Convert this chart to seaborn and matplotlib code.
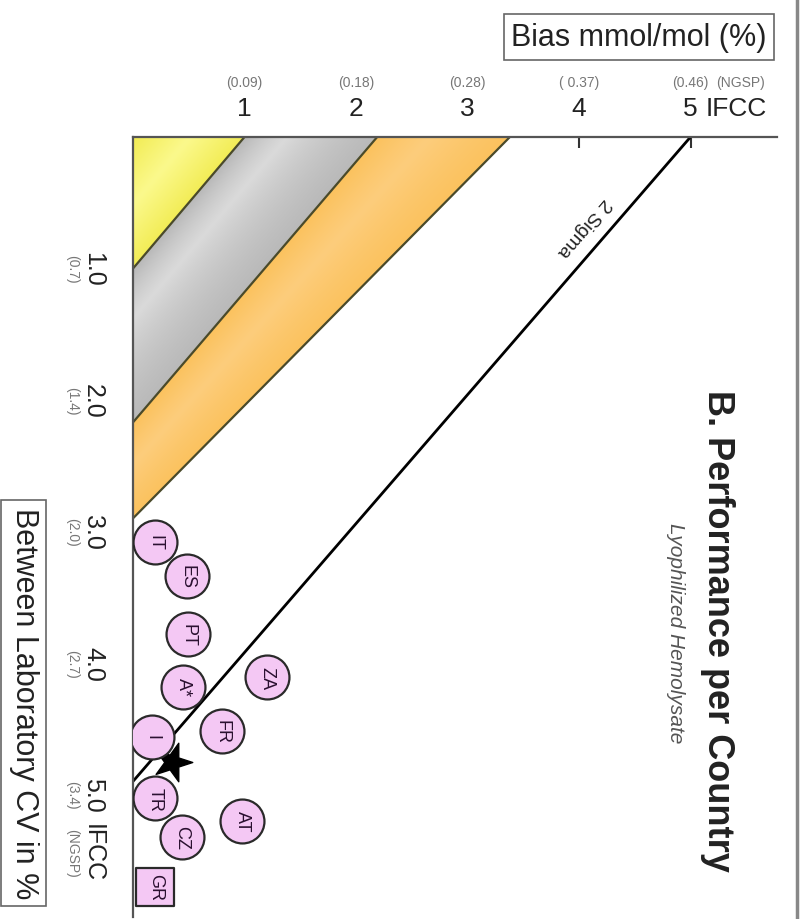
import math
import numpy as np
import matplotlib
matplotlib.use("Agg")
import pandas as pd
import matplotlib.pyplot as plt
import matplotlib.transforms as mtransforms
from matplotlib.lines import Line2D
from matplotlib.markers import MarkerStyle
from matplotlib.patches import Polygon
from matplotlib.colors import LinearSegmentedColormap
import seaborn as sns

# country results: bias (IFCC mmol/mol) against between-lab CV (%)
countries = ["IT", "ES", "PT", "A*", "I", "ZA", "FR", "TR", "CZ", "AT", "GR"]
bias = [0.20, 0.48, 0.49, 0.45, 0.17, 1.20, 0.80, 0.20, 0.44, 0.98, 0.20]
cv = [3.08, 3.34, 3.78, 4.18, 4.56, 4.11, 4.52, 5.03, 5.32, 5.20, 5.70]
kind = ["circle", "circle", "circle", "circle", "circle", "circle",
        "circle", "circle", "circle", "circle", "square"]

star_bias = [0.35]
star_cv = [4.75]

# performance zones: where each zone edge meets the bias and CV axes
zone_bias = [1.0, 2.19, 3.38]
zone_cv = [1.0, 2.17, 2.90]

# 2 sigma limit line
sigma_bias = 5.0
sigma_cv = 4.9

bias_ticks = [1, 2, 3, 4, 5]
bias_ngsp = ["(0.09)", "(0.18)", "(0.28)", "( 0.37)", "(0.46)"]
cv_ticks = [1.0, 2.0, 3.0, 4.0, 5.0]
cv_ngsp = ["(0.7)", "(1.4)", "(2.0)", "(2.7)", "(3.4)"]

df = pd.DataFrame({"country": countries, "bias": bias, "cv": cv, "kind": kind})

sns.set_style("white")
plt.rcParams["font.family"] = ["Liberation Sans", "DejaVu Sans"]

W, H = 800, 920
fig = plt.figure(figsize=(8, 9.2), dpi=100)
ax = fig.add_axes([133 / W, 2 / H, 644 / W, 780 / H])
xmax, ymax = 644 / 111.5, 780 / 131.5
ax.set_xlim(0, xmax)
ax.set_ylim(ymax, 0)

# zones, each shaded lighter in its middle
zone_cmaps = [
    LinearSegmentedColormap.from_list("y", ["#f2ec55", "#fbf98c", "#f2ec55"]),
    LinearSegmentedColormap.from_list("g", ["#b9b9b9", "#dadada", "#b9b9b9"]),
    LinearSegmentedColormap.from_list("o", ["#fbc25e", "#fdcd7c", "#fbc25e"]),
]
gx, gy = np.meshgrid(np.linspace(0, xmax, 400), np.linspace(0, ymax, 400))
prev_b, prev_c = 0.0, 0.0
for b, c, cmap in zip(zone_bias, zone_cv, zone_cmaps):
    poly = Polygon([(prev_b, 0), (b, 0), (0, c), (0, prev_c)],
                   closed=True, transform=ax.transData)
    inner = gx / prev_b + gy / prev_c if prev_b > 0 else np.zeros_like(gx)
    outer = gx / b + gy / c
    frac = np.clip((inner - 1) / (inner - outer + 1e-9), 0, 1) if prev_b > 0 \
        else np.clip(outer, 0, 1)
    img = ax.imshow(frac, extent=(0, xmax, ymax, 0), origin="upper",
                    cmap=cmap, vmin=0, vmax=1, aspect="auto", zorder=1,
                    interpolation="bilinear")
    img.set_clip_path(poly)
    ax.plot([b, 0], [0, c], color="#4a4a2a", lw=1.6, zorder=2)
    prev_b, prev_c = b, c
ax.set_xlim(0, xmax)
ax.set_ylim(ymax, 0)

ax.plot([sigma_bias, 0], [0, sigma_cv], color="black", lw=2, zorder=2)

# star
star = MarkerStyle("*", transform=mtransforms.Affine2D().rotate_deg(-90))
ax.scatter(star_bias, star_cv, marker=star, s=850, color="black", zorder=3)

circles = df[df["kind"] == "circle"]
squares = df[df["kind"] == "square"]
sns.scatterplot(data=circles, x="bias", y="cv", marker="o", s=1000,
                color="#f4c8f4", edgecolor="#2a2a2a", linewidth=1.6,
                zorder=4, ax=ax, legend=False)
sns.scatterplot(data=squares, x="bias", y="cv", marker="s", s=720,
                color="#f4c8f4", edgecolor="#2a2a2a", linewidth=1.6,
                zorder=4, ax=ax, legend=False)
for _, r in df.iterrows():
    ax.text(r["bias"], r["cv"], r["country"], rotation=270, ha="center",
            va="center", fontsize=13, color="#2a1030", zorder=5)

# 2 sigma label, along the line
p0 = ax.transData.transform((sigma_bias, 0))
p1 = ax.transData.transform((0, sigma_cv))
ang = math.degrees(math.atan2(p1[1] - p0[1], p1[0] - p0[0]))
ax.text(4.04, 0.68, "2 Sigma", rotation=ang, rotation_mode="anchor",
        ha="center", va="center", fontsize=14, color="#222")

# axes styling
ax.set_xlabel("")
ax.set_ylabel("")
for s in ["right", "bottom"]:
    ax.spines[s].set_visible(False)
for s in ["top", "left"]:
    ax.spines[s].set_color("#555555")
    ax.spines[s].set_linewidth(1.6)
    ax.spines[s].set_zorder(3)

ax.xaxis.tick_top()
ax.set_xticks(bias_ticks)
ax.set_xticklabels([str(t) for t in bias_ticks])
ax.tick_params(axis="x", direction="in", length=8, width=1.5, color="#333",
               pad=12, labelsize=19, labelcolor="#222")
ax.set_yticks(cv_ticks)
ax.set_yticklabels([f"{t:.1f}" for t in cv_ticks])
ax.tick_params(axis="y", direction="in", length=8, width=1.5, color="#333",
               pad=20, labelsize=18, labelcolor="#222", labelrotation=270)
for lab in ax.get_yticklabels():
    lab.set_va("center")

tr_top, _, _ = ax.get_xaxis_text2_transform(12)
ax.text(5.14, 1, "IFCC", transform=tr_top, ha="left", va="bottom",
        fontsize=19, color="#222")
tr_left, _, _ = ax.get_yaxis_text1_transform(20)
ax.text(0, 5.44, "IFCC", transform=tr_left, ha="right", va="center",
        rotation=270, fontsize=18, color="#222")

# NGSP equivalents in small grey type
top_tr = mtransforms.blended_transform_factory(ax.transData, fig.transFigure)
for t, lab in zip(bias_ticks, bias_ngsp):
    ax.text(t, 1 - 83 / H, lab, transform=top_tr, ha="center", va="center",
            fontsize=10, color="#777")
ax.text(5.45, 1 - 83 / H, "(NGSP)", transform=top_tr, ha="center",
        va="center", fontsize=10, color="#777")
left_tr = mtransforms.blended_transform_factory(fig.transFigure, ax.transData)
for t, lab in zip(cv_ticks, cv_ngsp):
    ax.text(72 / W, t, lab, transform=left_tr, ha="center", va="center",
            rotation=270, fontsize=10, color="#777")
ax.text(72 / W, 5.44, "(NGSP)", transform=left_tr, ha="center", va="center",
        rotation=270, fontsize=10, color="#777")

# boxed axis titles
box = dict(boxstyle="square,pad=0.25", fc="white", ec="#666", lw=1.2)
fig.text(639 / W, 1 - 38 / H, "Bias mmol/mol (%)", ha="center", va="center",
         fontsize=22, color="#222", bbox=box)
fig.text(23.5 / W, 1 - 704 / H, "Between Laboratory CV in %", ha="center",
         va="center", rotation=270, fontsize=22, color="#222", bbox=box)

fig.text(718 / W, 1 - 631 / H, "B. Performance per Country", ha="center",
         va="center", rotation=270, fontsize=26, fontweight="bold",
         color="#222")
fig.text(675 / W, 1 - 633 / H, "Lyophilized Hemolysate", ha="center",
         va="center", rotation=270, fontsize=15, style="italic", color="#555")

fig.add_artist(Line2D([797 / W, 797 / W], [0, 1], color="#888", lw=2.5))

fig.savefig("out.png", dpi=100)
